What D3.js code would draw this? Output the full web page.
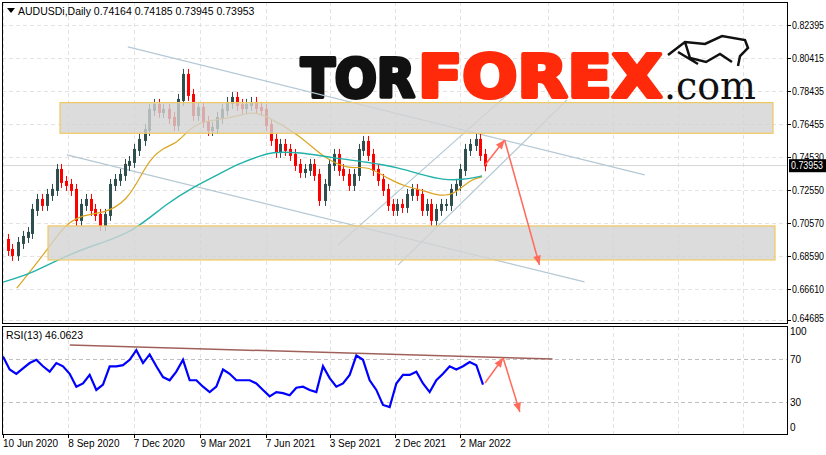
<!DOCTYPE html>
<html><head><meta charset="utf-8">
<script src="https://cdn.jsdelivr.net/npm/d3@7/dist/d3.min.js"></script>
<style>body{margin:0;background:#fff}svg{display:block;font-family:"Liberation Sans",Arial,sans-serif}</style>
</head><body><svg id="c" width="826" height="455"></svg>
<script>
const startDate = "2020-06-10", endDate = "2022-04-05";
const closes = [0.6947,0.6887,0.6857,0.6929,0.6965,0.6989,0.7127,0.7187,0.7157,0.7217,0.7247,0.7367,0.7295,0.7277,0.7247,0.7067,0.7157,0.7187,0.7127,0.7097,0.7037,0.7097,0.7277,0.7307,0.7337,0.7397,0.7415,0.7487,0.7547,0.7607,0.7727,0.7757,0.7715,0.7727,0.7679,0.7637,0.7787,0.7937,0.7817,0.7697,0.7739,0.7655,0.7607,0.7619,0.7679,0.7727,0.7769,0.7799,0.7757,0.7739,0.7757,0.7769,0.7739,0.7727,0.7637,0.7547,0.7475,0.7517,0.7487,0.7457,0.7397,0.7355,0.7367,0.7397,0.7337,0.7187,0.7277,0.7397,0.7457,0.7367,0.7337,0.7277,0.7337,0.7487,0.7535,0.7457,0.7367,0.7307,0.7247,0.7157,0.7127,0.7157,0.7145,0.7217,0.7247,0.7217,0.7127,0.7157,0.7067,0.7127,0.7157,0.7157,0.7247,0.7277,0.7367,0.7487,0.7517,0.7547,0.7457,0.7395];
const maFastDays = [19,61,83,106,143,171,189,202,220,240,253,271,295,317,344,358,409,441,478,501,533,556,578,602,625,643,660];
const maFast = [0.6658,0.6887,0.7025,0.7097,0.7109,0.7187,0.7325,0.7427,0.7499,0.7529,0.7595,0.7655,0.7667,0.7685,0.7715,0.7703,0.7577,0.7439,0.7367,0.7397,0.7307,0.7265,0.7247,0.7205,0.7229,0.7307,0.7325];
const maSlowDays = [0,41,88,134,179,226,262,295,326,354,368,409,454,501,547,578,606,633,660];
const maSlow = [0.6694,0.6748,0.6856,0.6928,0.6994,0.7168,0.7264,0.7336,0.7408,0.7450,0.7474,0.7474,0.7439,0.7415,0.7379,0.7337,0.7307,0.7307,0.7331];
const rsi = [72,60,56,61,66,69,63,58,66,63,56,44,47,55,41,46,63,63,64,69,78,66,74,63,53,50,58,69,50,50,44,39,44,60,56,50,50,50,47,41,35,39,38,36,43,44,41,39,63,52,44,47,55,73,69,50,41,27,25,47,55,55,58,47,39,50,56,63,60,63,67,64,46];
const priceTicks = ["0.82395","0.80415","0.78435","0.76455","0.74530","0.72550","0.70570","0.68590","0.66610","0.64685"];
const priceTickVals = [0.82395,0.80415,0.78435,0.76455,0.74475,0.72495,0.70515,0.68535,0.66555,0.64685];
const rsiTicks = [100,70,30,0];
const dateTicks = ["2020-06-10","2020-09-08","2020-12-07","2021-03-09","2021-06-07","2021-09-03","2021-12-02","2022-03-02"];
const lastPrice = 0.73953;
const zones = [[0.7587,0.7771],[0.6827,0.7031]];
const channels = [[[172,0.8105],[884,0.7337]],[[88,0.7457],[801,0.6695]],[[461,0.6916],[694,0.7816]],[[544,0.6796],[777,0.7787]]];
const arrows = [[[664,0.7397],[691,0.7547]],[[691,0.7547],[739,0.6797]]];
const rsiLine = [[92,82.8],[757,69.8]];
const rsiArrows = [[[664,47.4],[689,70.7]],[[689,70.7],[712,20.5]]];

const svg = d3.select("#c");
const parse = d3.timeParse("%Y-%m-%d");
const t0 = parse(startDate), t1 = parse(endDate);
const x = d3.scaleTime().domain([t0,t1]).range([3,485]);
const day = d => d3.timeDay.offset(t0,d);
const y = d3.scaleLinear().domain([0.64685,0.82395]).range([319.7,24.5]);
const yr = d3.scaleLinear().domain([0,100]).range([434,326.5]);
const n = closes.length;
const barDate = i => d3.timeDay.offset(t0, Math.round(i*(d3.timeDay.count(t0,t1))/(n-1)));

const defs = svg.append("defs");
defs.append("clipPath").attr("id","cm").append("rect").attr("x",2).attr("y",2).attr("width",785).attr("height",321);
defs.append("clipPath").attr("id","cr").append("rect").attr("x",2).attr("y",326).attr("width",785).attr("height",108);

const g = svg.append("g").attr("stroke","#e2e2e2").attr("stroke-dasharray","4,3");
dateTicks.forEach(d=>{const xx=Math.round(x(parse(d)))+0.5;
  g.append("line").attr("x1",xx).attr("x2",xx).attr("y1",2).attr("y2",323);
  g.append("line").attr("x1",xx).attr("x2",xx).attr("y1",326).attr("y2",434);});
[548,613,678,743].forEach(xx=>{g.append("line").attr("x1",xx+.5).attr("x2",xx+.5).attr("y1",2).attr("y2",323);
  g.append("line").attr("x1",xx+.5).attr("x2",xx+.5).attr("y1",326).attr("y2",434);});
priceTickVals.forEach(v=>{const yy=Math.round(y(v))+0.5;g.append("line").attr("x1",2).attr("x2",787).attr("y1",yy).attr("y2",yy);});
[70,30].forEach(v=>{const yy=Math.round(yr(v))+0.5;svg.append("line").attr("x1",2).attr("x2",787).attr("y1",yy).attr("y2",yy).attr("stroke","#c0c0c0").attr("stroke-dasharray","4,3");});

const main = svg.append("g").attr("clip-path","url(#cm)");
main.append("line").attr("x1",2).attr("x2",787).attr("y1",Math.round(y(lastPrice))+.5).attr("y2",Math.round(y(lastPrice))+.5).attr("stroke","#d8d8d8");

// logo
const logo = main.append("g");
logo.append("text").attr("x",301).attr("y",97).attr("font-family","DejaVu Sans").attr("font-weight","bold").attr("font-size",54).attr("textLength",114).attr("lengthAdjust","spacingAndGlyphs").attr("fill","#111").attr("stroke","#111").attr("stroke-width",4).attr("stroke-linejoin","round").text("TOR");
logo.append("text").attr("x",418).attr("y",97).attr("font-family","DejaVu Sans").attr("font-weight","bold").attr("font-size",58).attr("textLength",244).attr("lengthAdjust","spacingAndGlyphs").attr("fill","#ff2a0a").attr("stroke","#ff2a0a").attr("stroke-width",4).attr("stroke-linejoin","round").text("FOREX");
logo.append("text").attr("x",664).attr("y",99).attr("font-family","DejaVu Serif").attr("font-size",40).attr("textLength",92).attr("lengthAdjust","spacingAndGlyphs").attr("fill","#111").text(".com");
logo.append("path").attr("d","M668,55 L685,42 L705,44 L722,36 L745,40 L748,48 L740,56 L738,66 M685,42 L690,58 L706,62 L720,54 L732,62 M678,52 L698,64").attr("fill","none").attr("stroke","#111").attr("stroke-width",2.5);

channels.forEach(c=>main.append("line").attr("x1",x(day(c[0][0]))).attr("y1",y(c[0][1])).attr("x2",x(day(c[1][0]))).attr("y2",y(c[1][1])).attr("stroke","#b4c8d4").attr("stroke-width",1.2));

closes.forEach((c,i)=>{ if(i===0) return; const o=closes[i-1]; const xx=Math.round(x(barDate(i)));
  const up=c>=o, col=up?"#2f4f4f":"#ff0000";
  main.append("line").attr("x1",xx+.5).attr("x2",xx+.5).attr("y1",y(Math.max(o,c))-6).attr("y2",y(Math.min(o,c))+6).attr("stroke",col);
  main.append("rect").attr("x",xx-1).attr("width",3).attr("y",y(Math.max(o,c))-1).attr("height",Math.abs(y(o)-y(c))+2).attr("fill",col);
});

const ln = d3.line().curve(d3.curveBasis);
main.append("path").attr("d",ln(maFastDays.map((d,i)=>[x(day(d)),y(maFast[i])]))).attr("fill","none").attr("stroke","#daa520").attr("stroke-width",1.2);
main.append("path").attr("d",ln(maSlowDays.map((d,i)=>[x(day(d)),y(maSlow[i])]))).attr("fill","none").attr("stroke","#20b2aa").attr("stroke-width",1.4);

zones.forEach((z,i)=>{const x0=i===0?60:48,x1=i===0?773:775;
  main.append("rect").attr("x",x0).attr("y",y(z[1])).attr("width",x1-x0).attr("height",y(z[0])-y(z[1])).attr("fill","#d3d3d3").attr("fill-opacity",0.8).attr("stroke","#f0c860").attr("stroke-width",1.2);});

function arrow(gp,p0,p1,sx,sy){const X0=sx(p0[0]),Y0=sy(p0[1]),X1=sx(p1[0]),Y1=sy(p1[1]);
  gp.append("line").attr("x1",X0).attr("y1",Y0).attr("x2",X1).attr("y2",Y1).attr("stroke","#ff6a5a").attr("stroke-width",1.5);
  const a=Math.atan2(Y1-Y0,X1-X0),L=10,w=0.4;
  gp.append("path").attr("d",`M${X1},${Y1}L${X1-L*Math.cos(a-w)},${Y1-L*Math.sin(a-w)}L${X1-L*Math.cos(a+w)},${Y1-L*Math.sin(a+w)}Z`).attr("fill","#ff6a5a");}
arrows.forEach(a=>arrow(main,a[0],a[1],d=>x(day(d)),y));

const rg = svg.append("g").attr("clip-path","url(#cr)");
rg.append("line").attr("x1",x(day(rsiLine[0][0]))).attr("y1",yr(rsiLine[0][1])).attr("x2",x(day(rsiLine[1][0]))).attr("y2",yr(rsiLine[1][1])).attr("stroke","#a0605a").attr("stroke-width",1.5);
const rx = d3.scaleLinear().domain([0,rsi.length-1]).range([3,483]);
rg.append("path").attr("d",d3.line()(rsi.map((v,i)=>[rx(i),yr(v)]))).attr("fill","none").attr("stroke","#0000ff").attr("stroke-width",2.2);
rsiArrows.forEach(a=>arrow(rg,a[0],a[1],d=>x(day(d)),yr));

svg.append("rect").attr("x",2.5).attr("y",2.5).attr("width",785).attr("height",321).attr("fill","none").attr("stroke","#000");
svg.append("rect").attr("x",2.5).attr("y",326.5).attr("width",785).attr("height",108).attr("fill","none").attr("stroke","#000");

const fs=10;
priceTicks.forEach((t,i)=>{const yy=y(priceTickVals[i]);
  svg.append("line").attr("x1",787).attr("x2",791).attr("y1",Math.round(yy)+.5).attr("y2",Math.round(yy)+.5).attr("stroke","#000");
  svg.append("text").attr("x",792).attr("y",yy+(i===9?2:4)).attr("font-size",fs).attr("textLength",32).attr("lengthAdjust","spacingAndGlyphs").text(t);});
const ly=y(lastPrice);
svg.append("rect").attr("x",789).attr("y",ly-6).attr("width",37).attr("height",13).attr("fill","#000");
svg.append("text").attr("x",791).attr("y",ly+4).attr("font-size",fs).attr("textLength",32).attr("lengthAdjust","spacingAndGlyphs").attr("fill","#fff").text(lastPrice.toFixed(5));
rsiTicks.forEach(v=>{svg.append("text").attr("x",790).attr("y",yr(v)+(v===100?8:v===0?-3:4)).attr("font-size",fs).text(v);});
const fmt=d3.timeFormat("%-d %b %Y");
dateTicks.forEach(d=>{const xx=x(parse(d));
  svg.append("line").attr("x1",Math.round(xx)+.5).attr("x2",Math.round(xx)+.5).attr("y1",434).attr("y2",438).attr("stroke","#000");
  svg.append("text").attr("x",xx).attr("y",447).attr("font-size",fs).text(fmt(parse(d)));});

svg.append("path").attr("d","M7,8 L15,8 L11,13 Z").attr("fill","#000");
svg.append("text").attr("x",18).attr("y",15).attr("font-size",10.5).text("AUDUSDi,Daily  0.74164 0.74185 0.73945 0.73953");
svg.append("text").attr("x",6).attr("y",339).attr("font-size",10.5).text("RSI(13) 46.0623");
</script></body></html>
